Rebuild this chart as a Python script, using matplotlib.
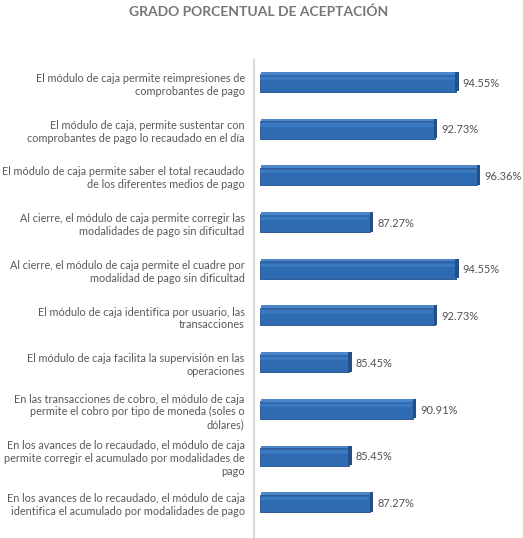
import numpy as np
import matplotlib.pyplot as plt

# Datos
preguntas = [
    "El módulo de caja permite reimpresiones de\ncomprobantes de pago",
    "El módulo de caja, permite sustentar con\ncomprobantes de pago lo recaudado en el día",
    "El módulo de caja permite saber el total recaudado\nde los diferentes medios de pago",
    "Al cierre, el módulo de caja permite corregir las\nmodalidades de pago sin dificultad",
    "Al cierre, el módulo de caja permite el cuadre por\nmodalidad de pago sin dificultad",
    "El módulo de caja identifica por usuario, las\ntransacciones",
    "El módulo de caja facilita la supervisión en las\noperaciones",
    "En las transacciones de cobro, el módulo de caja\npermite el cobro por tipo de moneda (soles o\ndólares)",
    "En los avances de lo recaudado, el módulo de caja\npermite corregir el acumulado por modalidades de\npago",
    "En los avances de lo recaudado, el módulo de caja\nidentifica el acumulado por modalidades de pago",
]
porcentajes = [94.55, 92.73, 96.36, 87.27, 94.55, 92.73, 85.45, 90.91, 85.45, 87.27]

x_min, x_max = 77.86, 99.6

plt.rcParams['font.family'] = ['Lato', 'DejaVu Sans']

fig = plt.figure(figsize=(5.23, 5.38), dpi=100)
ax = fig.add_axes([0.497, 0.0, 0.488, 0.889])

y = np.arange(len(porcentajes))
anchos = np.array(porcentajes) - x_min

# cara principal de la barra
barras = ax.barh(y, anchos, left=x_min, height=0.38, color='#2e6bb3',
                 edgecolor='#1f4e89', linewidth=0.6, zorder=3)
# cara superior (bisel)
ax.barh(y - 0.21, anchos, left=x_min + 0.1, height=0.06, color='#4a86c9',
        edgecolor='none', zorder=3)
# brillo
ax.barh(y - 0.1, anchos - 0.1, left=x_min, height=0.07, color='#3a78c0',
        edgecolor='none', zorder=4)
# cara lateral derecha
ax.barh(y - 0.03, [0.3] * len(y), left=np.array(porcentajes) - 0.05,
        height=0.42, color='#234f86', edgecolor='none', zorder=4)

ax.bar_label(barras, labels=[f"{v:.2f}%" for v in porcentajes], padding=5,
             fontsize=7.9, color='#505050')

ax.set_xlim(x_min, x_max)
ax.set_ylim(9.74, -0.5)
ax.set_yticks(y, preguntas)
ax.tick_params(axis='y', length=0, pad=7, labelsize=7.8, labelcolor='#595959')
for t in ax.get_yticklabels():
    t.set_multialignment('center')
ax.set_xticks([])

for lado in ['top', 'right', 'bottom']:
    ax.spines[lado].set_visible(False)
ax.spines['left'].set_color('#d9d9d9')
ax.spines['left'].set_linewidth(1.5)
ax.spines['left'].set_position(('outward', 4))

fig.text(0.495, 0.99, "GRADO PORCENTUAL DE ACEPTACIÓN", ha='center', va='top',
         fontsize=10, fontweight='bold', color='#767676')

fig.savefig('out.png', dpi=100)
